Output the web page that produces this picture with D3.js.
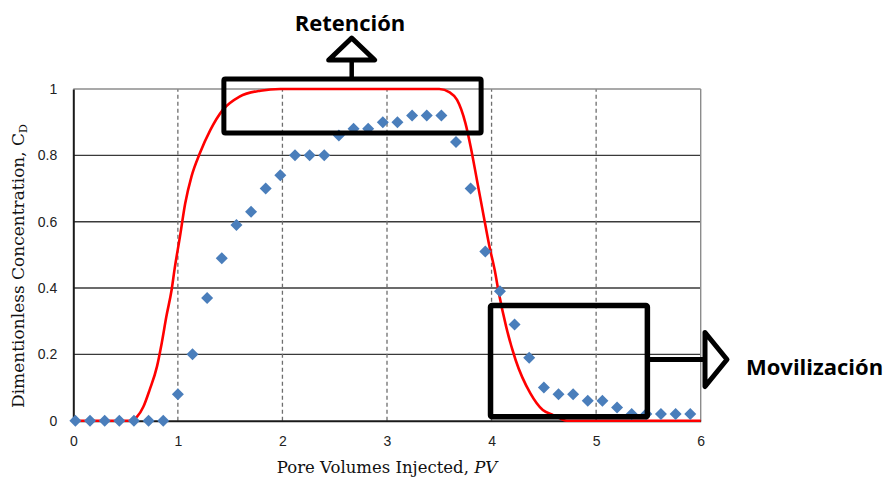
<!DOCTYPE html>
<html>
<head>
<meta charset="utf-8">
<script src="https://cdn.jsdelivr.net/npm/d3@7/dist/d3.min.js"></script>
<style>
  html, body { margin: 0; padding: 0; background: #fff; }
  svg { display: block; }
</style>
</head>
<body>
<svg id="chart" width="886" height="479"></svg>
<script>
// Measured tracer concentration (pore volumes injected vs. C_D)
const measuredPV = [0.02, 0.16, 0.30, 0.44, 0.58, 0.72, 0.86, 1.00, 1.14, 1.28, 1.42,
  1.56, 1.70, 1.84, 1.98, 2.12, 2.26, 2.40, 2.54, 2.68, 2.82, 2.96, 3.10, 3.24, 3.38,
  3.52, 3.66, 3.80, 3.94, 4.08, 4.22, 4.36, 4.50, 4.64, 4.78, 4.92, 5.06, 5.20, 5.34,
  5.48, 5.62, 5.76, 5.90];
const measuredCD = [0, 0, 0, 0, 0, 0, 0, 0.08, 0.20, 0.37, 0.49,
  0.59, 0.63, 0.70, 0.74, 0.80, 0.80, 0.80, 0.86, 0.88, 0.88, 0.90, 0.90, 0.92, 0.92,
  0.92, 0.84, 0.70, 0.51, 0.39, 0.29, 0.19, 0.10, 0.08, 0.08, 0.06, 0.06, 0.04, 0.02,
  0.02, 0.02, 0.02, 0.02];

// Model curve
const modelPV = [0, 0.55, 0.61, 0.67, 0.73, 0.80, 0.845, 0.89, 0.94, 0.97, 1.02, 1.07,
  1.13, 1.21, 1.31, 1.43, 1.59, 1.79, 1.98, 3.50, 3.60, 3.67, 3.75, 3.80, 3.86, 3.92,
  3.98, 4.03, 4.07, 4.14, 4.23, 4.37, 4.49, 4.59, 4.72, 6.00];
const modelCD = [0, 0, 0.012, 0.042, 0.093, 0.163, 0.233, 0.314, 0.394, 0.46, 0.555, 0.655,
  0.736, 0.806, 0.876, 0.937, 0.977, 0.995, 1.0, 1.0, 0.99, 0.967, 0.897, 0.826, 0.726, 0.625,
  0.525, 0.454, 0.384, 0.283, 0.183, 0.083, 0.032, 0.017, 0, 0];

// Axis ticks
const xTicks = [0, 1, 2, 3, 4, 5, 6];
const yTicks = [0, 0.2, 0.4, 0.6, 0.8, 1];
const yTickLabels = ["0", "0.2", "0.4", "0.6", "0.8", "1"];

// Highlighted regions: [x0, x1] in PV, [y0, y1] in C_D
const retentionBox = { label: "Retención", x: [1.44, 3.90], y: [0.867, 1.03] };
const mobilizationBox = { label: "Movilización", x: [3.99, 5.49], y: [0.012, 0.347] };

const svg = d3.select("#chart");
const x = d3.scaleLinear().domain([0, 6]).range([73.3, 700.7]);
const y = d3.scaleLinear().domain([0, 1]).range([420.7, 89]);

// Grid
const grid = svg.append("g");
grid.selectAll("line.h").data(yTicks.filter(d => d > 0 && d < 1)).join("line")
  .attr("x1", x(0)).attr("x2", x(6))
  .attr("y1", d => y(d)).attr("y2", d => y(d))
  .attr("stroke", "#3a3a3a").attr("stroke-width", 1.4);
grid.selectAll("line.v").data(xTicks.filter(d => d > 0 && d < 6)).join("line")
  .attr("x1", d => x(d)).attr("x2", d => x(d))
  .attr("y1", y(0)).attr("y2", y(1))
  .attr("stroke", "#6e6e6e").attr("stroke-width", 1.3)
  .attr("stroke-dasharray", "4,3");

// Frame: top/right light, left/bottom dark
svg.append("line").attr("x1", x(0)).attr("x2", x(6)).attr("y1", y(1)).attr("y2", y(1))
  .attr("stroke", "#8c8c8c").attr("stroke-width", 1.4);
svg.append("line").attr("x1", x(6)).attr("x2", x(6)).attr("y1", y(1)).attr("y2", y(0))
  .attr("stroke", "#8c8c8c").attr("stroke-width", 1.4);

// Axes
const tickFont = "'Liberation Sans', Arial, sans-serif";
const xAxis = svg.append("g").attr("transform", `translate(0,${y(0)})`)
  .call(d3.axisBottom(x).tickValues(xTicks).tickSize(0).tickPadding(15).tickFormat(d3.format("d")));
const yAxis = svg.append("g").attr("transform", `translate(${x(0)},0)`)
  .call(d3.axisLeft(y).tickValues(yTicks).tickSize(0).tickPadding(16)
    .tickFormat((d, i) => yTickLabels[i]));
[xAxis, yAxis].forEach(a => {
  a.select(".domain").attr("stroke", "#1a1a1a").attr("stroke-width", 2);
  a.selectAll("text").attr("font-family", tickFont).attr("font-size", 14).attr("fill", "#222");
});

// Model line
const line = d3.line().x(d => x(d[0])).y(d => y(d[1])).curve(d3.curveMonotoneX);
svg.append("path")
  .datum(modelPV.map((v, i) => [v, modelCD[i]]))
  .attr("d", line)
  .attr("fill", "none").attr("stroke", "#ff0000").attr("stroke-width", 2.6);

// Measured points (diamonds)
const diamond = d3.symbol().type(d3.symbolSquare).size(72);
svg.append("g").selectAll("path")
  .data(measuredPV.map((v, i) => [v, measuredCD[i]]))
  .join("path")
  .attr("d", diamond)
  .attr("transform", d => `translate(${x(d[0])},${y(d[1])}) rotate(45)`)
  .attr("fill", "#4a7ebb");

// Axis titles
const serif = "'DejaVu Serif', 'Liberation Serif', serif";
const xt = svg.append("text")
  .attr("x", (x(0) + x(6)) / 2).attr("y", 472.5)
  .attr("text-anchor", "middle")
  .attr("font-family", serif).attr("font-size", 16.5).attr("fill", "#111");
xt.append("tspan").text("Pore Volumes Injected, ");
xt.append("tspan").attr("font-style", "italic").text("PV");

const yt = svg.append("text")
  .attr("transform", `translate(24,266) rotate(-90)`)
  .attr("text-anchor", "middle")
  .attr("font-family", serif).attr("font-size", 17).attr("fill", "#111");
yt.append("tspan").text("Dimentionless Concentration, C");
yt.append("tspan").attr("font-size", 11).attr("dy", 3).text("D");

// Annotations
const ann = svg.append("g").attr("fill", "none").attr("stroke", "#000")
  .attr("stroke-width", 5).attr("stroke-linejoin", "round");
const boldFont = "'Open Sans', sans-serif";

// Retention box with upward arrow
const rb = retentionBox;
ann.append("rect")
  .attr("x", x(rb.x[0])).attr("y", y(rb.y[1]))
  .attr("width", x(rb.x[1]) - x(rb.x[0])).attr("height", y(rb.y[0]) - y(rb.y[1]))
  .attr("rx", 1.5);
const rcx = 351.7, rTop = y(rb.y[1]);
ann.append("line").attr("x1", rcx).attr("x2", rcx).attr("y1", rTop).attr("y2", rTop - 19)
  .attr("stroke-width", 4.5);
ann.append("path")
  .attr("d", `M${rcx},${rTop - 41}L${rcx + 23},${rTop - 19}L${rcx - 23},${rTop - 19}Z`)
  .attr("fill", "#fff");
svg.append("text").attr("x", 350).attr("y", 30.5).attr("text-anchor", "middle")
  .attr("font-family", boldFont).attr("font-weight", 700).attr("font-size", 22)
  .attr("fill", "#000").text(rb.label);

// Mobilization box with rightward arrow
const mb = mobilizationBox;
ann.append("rect")
  .attr("x", x(mb.x[0])).attr("y", y(mb.y[1]))
  .attr("width", x(mb.x[1]) - x(mb.x[0])).attr("height", y(mb.y[0]) - y(mb.y[1]))
  .attr("rx", 1.5).attr("stroke-width", 5.5);
const mcy = 359.5, mRight = x(mb.x[1]);
ann.append("line").attr("x1", mRight).attr("x2", 705).attr("y1", mcy).attr("y2", mcy);
ann.append("path")
  .attr("d", `M705,${mcy - 27}L727,${mcy}L705,${mcy + 27}Z`)
  .attr("fill", "#fff");
svg.append("text").attr("x", 746).attr("y", 375).attr("text-anchor", "start")
  .attr("font-family", boldFont).attr("font-weight", 700).attr("font-size", 22)
  .attr("fill", "#000").text(mb.label);
</script>
</body>
</html>
